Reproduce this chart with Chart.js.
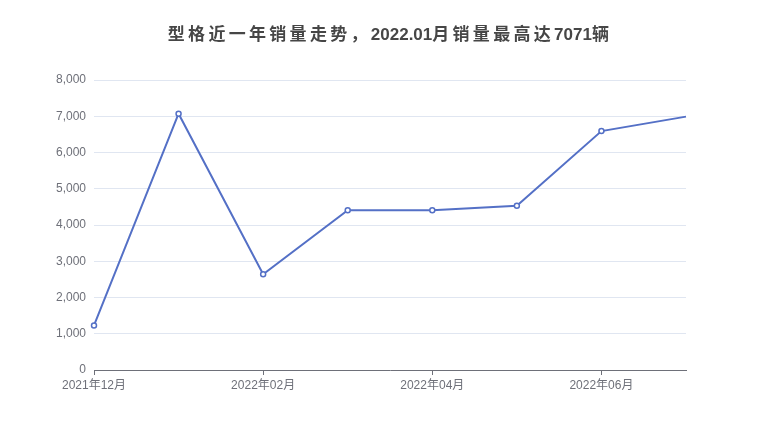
<!DOCTYPE html>
<html>
<head>
<meta charset="utf-8">
<script src="https://cdn.jsdelivr.net/npm/chart.js@4.4.0/dist/chart.umd.min.js"></script>
<style>
  html, body { margin: 0; padding: 0; background: #fff; }
  #wrap { width: 780px; height: 440px; position: relative; }
</style>
</head>
<body>
<div id="wrap"><canvas id="sales_chart"></canvas></div>
<script>
// 型格 monthly sales
const months = ['2021年12月', '2022年01月', '2022年02月', '2022年03月', '2022年04月', '2022年05月', '2022年06月', '2022年07月'];
const sales = [1230, 7071, 2640, 4410, 4410, 4530, 6590, 6990];
const y_ticks = [0, 1000, 2000, 3000, 4000, 5000, 6000, 7000, 8000];
const title_text = '型格近一年销量走势，2022.01月销量最高达7071辆';

const line_color = '#5470c6';
const axis_color = '#6e7079';
const grid_color = '#e0e6f1';
const font_family = '"Liberation Sans", "Noto Sans CJK SC", sans-serif';

// title centred on the whole canvas, CJK glyphs get a bit of extra spacing
const chart_title = {
	id: 'chart_title',
	afterDraw(chart) {
		const ctx = chart.ctx;
		ctx.save();
		ctx.font = 'bold 17px ' + font_family;
		ctx.fillStyle = '#464646';
		ctx.textBaseline = 'middle';
		const gap = (ch) => ch.charCodeAt(0) > 0x2e80 ? 3.3 : 0;
		const chars = Array.from(title_text);
		let total = 0;
		chars.forEach(ch => { total += ctx.measureText(ch).width + gap(ch); });
		let x = chart.width / 2 - total / 2;
		chars.forEach(ch => {
			ctx.fillText(ch, x, 35);
			x += ctx.measureText(ch).width + gap(ch);
		});
		ctx.restore();
	}
};

const sales_chart = new Chart(
		document.getElementById('sales_chart').getContext('2d'),
		{
			type: 'line',
			data: {
				labels: months,
				datasets: [{
						data: sales,
						borderColor: line_color,
						borderWidth: 2,
						backgroundColor: '#fff',
						pointBackgroundColor: '#fff',
						pointBorderColor: line_color,
						pointBorderWidth: 1.5,
						pointRadius: sales.map((v, i) => i === sales.length - 1 ? 0 : 2.5),
						tension: 0,
						fill: false
					}]
			},
			options: {
				responsive: true,
				maintainAspectRatio: false,
				animation: false,
				layout: {
					padding: { left: 0, right: 94, top: 80, bottom: 0 }
				},
				scales: {
					x: {
						offset: false,
						border: { color: axis_color, width: 1 },
						grid: {
							drawOnChartArea: false,
							drawTicks: true,
							tickLength: 5,
							color: (ctx) => ctx.index % 2 ? 'rgba(0,0,0,0)' : axis_color
						},
						ticks: {
							autoSkip: false,
							maxRotation: 0,
							color: axis_color,
							font: { size: 12, family: font_family },
							padding: 3,
							callback: function (value, index) {
								return index % 2 ? '' : this.getLabelForValue(value);
							}
						},
						afterFit: (scale) => { scale.height = 70; }
					},
					y: {
						min: 0,
						max: 8000,
						afterBuildTicks: (scale) => { scale.ticks = y_ticks.map(v => ({ value: v })); },
						border: { display: false },
						grid: { color: grid_color, drawTicks: false },
						ticks: {
							color: axis_color,
							font: { size: 12, family: font_family },
							padding: 8,
							callback: (v) => v.toLocaleString('en-US')
						},
						afterFit: (scale) => { scale.width = 94; }
					}
				},
				plugins: {
					legend: { display: false },
					tooltip: { enabled: false },
					title: { display: false }
				}
			},
			plugins: [chart_title]
		}
);
</script>
</body>
</html>
